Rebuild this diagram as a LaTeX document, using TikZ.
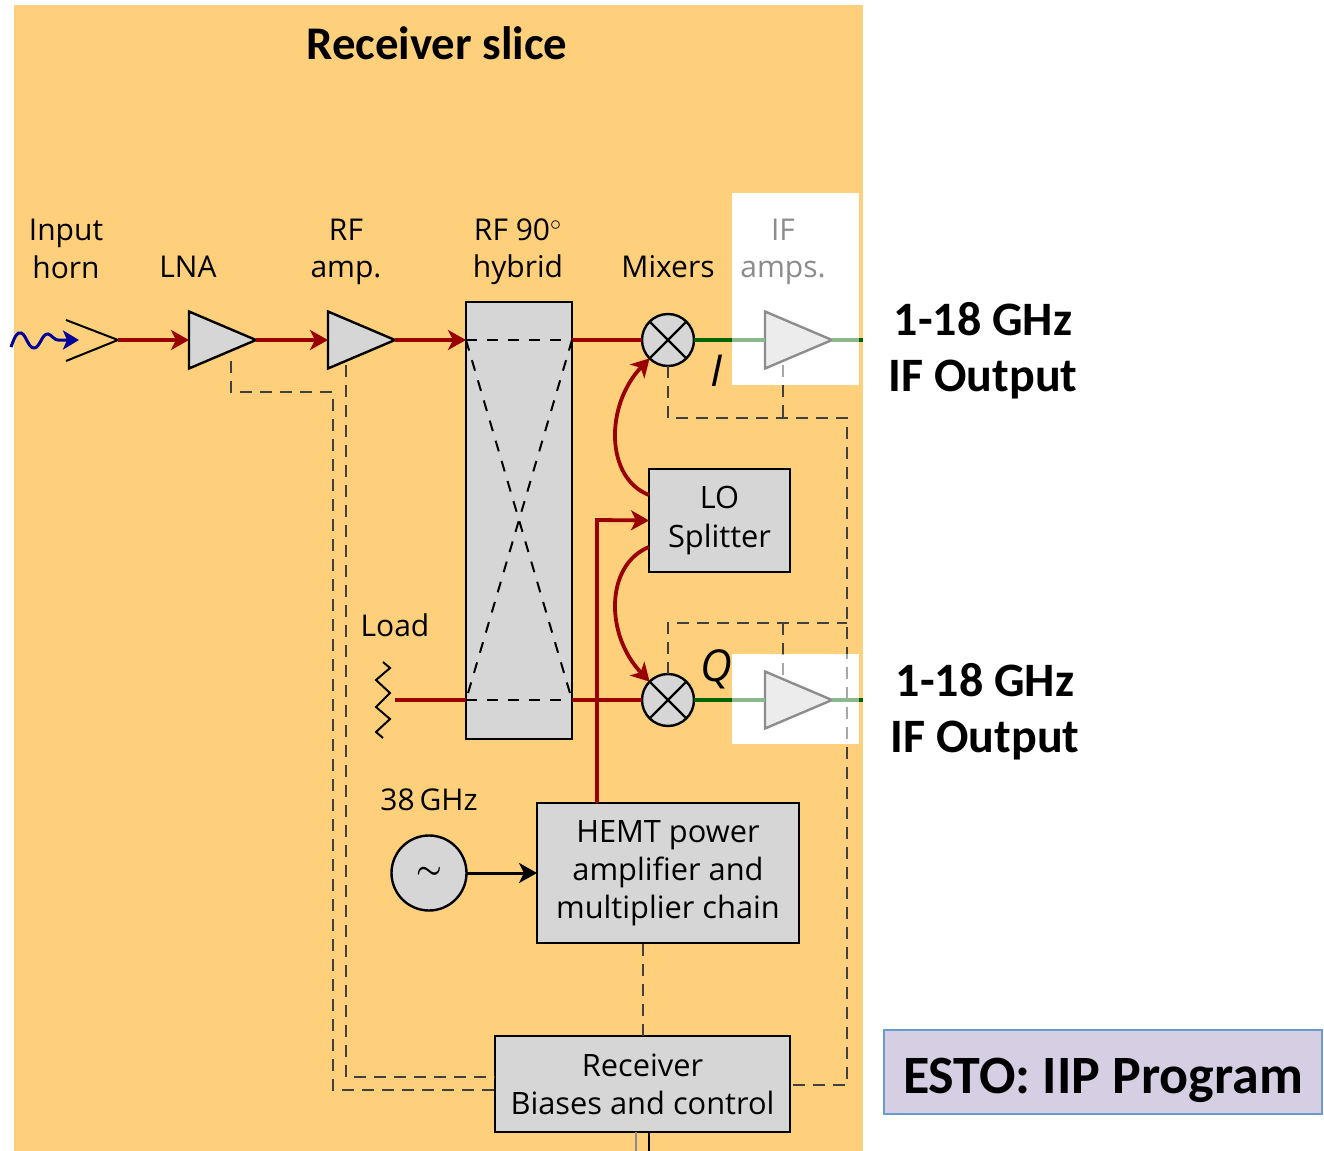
\documentclass[tikz,border=0pt]{standalone}
\usepackage{fontspec}
\setmainfont{Open Sans}
\newfontfamily\boldfont[BoldFont=Carlito Bold]{Carlito}
\usetikzlibrary{shapes.geometric,arrows.meta}
\definecolor{slicebg}{HTML}{FED07C}
\definecolor{boxgray}{HTML}{D6D6D6}
\definecolor{rfred}{HTML}{990000}
\definecolor{ifgreen}{HTML}{006400}
\definecolor{estobg}{HTML}{D6CFE4}
\definecolor{estoline}{HTML}{6A9AD0}
\tikzset{
	lbl/.style={inner sep=0pt,font=\fontsize{15}{18.6}\selectfont,align=center},
	side/.style={inner sep=0pt,font=\boldfont\fontsize{24}{28}\selectfont\bfseries,align=center},
	blockbox/.style={draw=black,line width=1.2pt,fill=boxgray,inner sep=0pt,outer sep=0pt,anchor=north west,align=center,font=\fontsize{15.4}{19}\selectfont},
	amptri/.style={draw=black,line width=1.2pt,fill=boxgray,isosceles triangle,isosceles triangle stretches,inner sep=0pt,outer sep=0pt,minimum width=28.5pt,minimum height=33.5pt,anchor=west},
	mixer/.style={draw=black,line width=1.2pt,fill=boxgray,circle,inner sep=0pt,outer sep=0pt,minimum size=26pt},
	rfline/.style={draw=rfred,line width=1.9pt},
	rfarrow/.style={rfline,-{Stealth[length=9pt,width=10pt,inset=2.5pt]}},
	ifline/.style={draw=ifgreen,line width=1.9pt},
	bias/.style={draw=black!75,line width=0.8pt,dash pattern=on 6pt off 4pt},
	hybdash/.style={draw=black,line width=1pt,dash pattern=on 5.5pt off 5pt},
	fadepatch/.style={fill=white,opacity=0.55},
}
\begin{document}
\begin{tikzpicture}[x=0.5pt,y=-0.5pt]
	\useasboundingbox (0,0) rectangle (1324,1151);
	% background
	\fill[slicebg] (14,5) rectangle (863,1151);
	\fill[white] (732,193) rectangle (859,385);
	\fill[white] (732,654) rectangle (859,744);
	% blocks
	\node[lbl,font=\boldfont\fontsize{23.4}{26}\selectfont\bfseries] (title) at (437,43) {Receiver slice};
	\node[amptri] (lna) at (189,340) {};
	\node[amptri] (rfamp) at (328,340) {};
	\node[amptri] (ifampi) at (765,340) {};
	\node[amptri] (ifampq) at (765,700) {};
	\node[blockbox,minimum width=53pt,minimum height=218.5pt] (hybrid) at (466,302) {};
	\coordinate (hybinw) at (466,340);
	\coordinate (hybine) at (572,340);
	\coordinate (hybqw) at (466,700);
	\coordinate (hybqe) at (572,700);
	\node[mixer] (mixi) at (668,340) {};
	\node[mixer] (mixq) at (668,700) {};
	\draw[line width=1.2pt] (mixi.45) -- (mixi.225) (mixi.135) -- (mixi.315);
	\draw[line width=1.2pt] (mixq.45) -- (mixq.225) (mixq.135) -- (mixq.315);
	\node[blockbox,minimum width=70.5pt,minimum height=51.5pt] (losplit) at (649,469) {LO\\[0.3pt]Splitter};
	\node[blockbox,minimum width=131pt,minimum height=70pt] (hemt) at (537,803) {HEMT power\\amplifier and\\multiplier chain};
	\node[blockbox,minimum width=147.5pt,minimum height=48pt] (biasbox) at (495,1036) {Receiver\\Biases and control};
	\node[mixer,minimum size=37.5pt,font=\fontsize{15}{15}\selectfont\boldmath] (osc) at (429,873) {$\sim$};
	% horn
	\coordinate (hornup) at (66,320);
	\coordinate (horntip) at (118,340);
	\coordinate (horndn) at (66,361);
	\draw[line width=1pt] (hornup) -- (horntip) -- (horndn);
	\coordinate (wavein) at (11,347);
	\coordinate (waveend) at (79,340);
	\draw[draw=blue!60!black,line width=1.5pt,-{Stealth[length=8pt,width=9.5pt,inset=2pt]}] (wavein) .. controls (15,336) and (17,332) .. (21,333) .. controls (26,334) and (28,348) .. (34,348) .. controls (40,348) and (42,333) .. (48,334) .. controls (52,335) and (54,340) .. (58,340) -- (waveend);
	% rf lines
	\draw[rfarrow] (horntip) -- (lna.west);
	\draw[rfarrow] (lna.apex) -- (rfamp.west);
	\draw[rfarrow] (rfamp.apex) -- (hybinw);
	\draw[rfline] (hybine) -- (mixi);
	\coordinate (loadend) at (395,700);
	\draw[rfline] (loadend) -- (hybqw);
	\draw[rfline] (hybqe) -- (mixq);
	\coordinate (hemtup) at (597,803);
	\coordinate (hemtknee) at (597,520);
	\draw[rfarrow] (hemtup) -- (hemtknee) -- (losplit.west);
	\draw[rfarrow] (649,495) .. controls (605,478) and (605,405) .. (mixi.225);
	\draw[rfarrow] (649,547) .. controls (605,565) and (605,635) .. (mixq.135);
	\draw[line width=1.5pt,-{Stealth[length=9pt,width=10pt,inset=2.5pt]}] (osc) -- (hemt.west |- osc);
	% load
	\draw[line width=1pt] (383,662) -- (390,668) -- (376,680) -- (390,693) -- (376,707) -- (390,719) -- (376,732) -- (383,738);
	% if lines
	\coordinate (ifiend) at (863,340);
	\coordinate (ifqend) at (863,700);
	\draw[ifline] (mixi) -- (ifampi.west);
	\draw[ifline] (ifampi.apex) -- (ifiend);
	\draw[ifline] (mixq) -- (ifampq.west);
	\draw[ifline] (ifampq.apex) -- (ifqend);
	% hybrid
	\draw[hybdash] (hybinw) -- (hybine);
	\draw[hybdash] (hybqw) -- (hybqe);
	\draw[hybdash] (hybinw) -- (hybqe);
	\draw[hybdash] (hybine) -- (hybqw);
	% bias lines
	\coordinate (lnabias) at (231,361);
	\coordinate (rfbias) at (346,365);
	\coordinate (ifibias) at (783,365);
	\coordinate (ifqbias) at (783,680);
	\draw[bias] (lnabias) -- (231,392) -- (333,392) -- (333,1090) -- (biasbox.west |- 0,1090);
	\draw[bias] (rfbias) -- (346,1077) -- (biasbox.west |- 0,1077);
	\draw[bias] (mixi.south) -- (668,418) -- (847,418) -- (847,1085) -- (biasbox.east |- 0,1085);
	\draw[bias] (ifibias) -- (783,418);
	\draw[bias] (mixq.north) -- (668,623) -- (847,623);
	\draw[bias] (783,623) -- (ifqbias);
	\draw[bias] (biasbox.north -| 643,0) -- (hemt.south -| 643,0);
	\coordinate (stubg) at (636,1151);
	\coordinate (stubk) at (649,1151);
	\draw[draw=black!45,line width=1.2pt] (stubg |- biasbox.south) -- (stubg);
	\draw[line width=1.2pt] (stubk |- biasbox.south) -- (stubk);
	% labels
	\node[lbl] (inlbl) at (66,249) {Input\\horn};
	\node[lbl] (lnalbl) at (188,267) {LNA};
	\node[lbl] (rflbl) at (346,252) {RF\\amp.};
	\node[lbl] (hyblbl) at (518,252) {RF 90$^{\circ}$\\hybrid};
	\node[lbl] (mixlbl) at (668,267) {Mixers};
	\node[lbl] (iflbl) at (783,252) {IF\\amps.};
	\node[lbl] (loadlbl) at (395,625) {Load};
	\node[lbl] (ghzlbl) at (429,800) {38\,GHz};
	\node[lbl,font=\fontsize{22}{24}\selectfont\itshape] (ilbl) at (716,371) {I};
	\node[lbl,font=\fontsize{22}{24}\selectfont\itshape] (qlbl) at (716,669) {Q};
	% fade
	\fill[fadepatch] (732,193) rectangle (859,385);
	\fill[fadepatch] (732,654) rectangle (859,744);
	% outputs
	\node[side] (outi) at (983,351) {1-18 GHz\\IF Output};
	\node[side] (outq) at (985,712) {1-18 GHz\\IF Output};
	\node[draw=estoline,line width=1pt,fill=estobg,inner sep=0pt,outer sep=0pt,minimum width=219pt,minimum height=42pt,anchor=north west] (esto) at (884,1030) {};
	\node[inner sep=0pt,font=\boldfont\fontsize{27}{30}\selectfont\bfseries] (estotxt) at (1103,1080) {ESTO: IIP Program};
\end{tikzpicture}
\end{document}
